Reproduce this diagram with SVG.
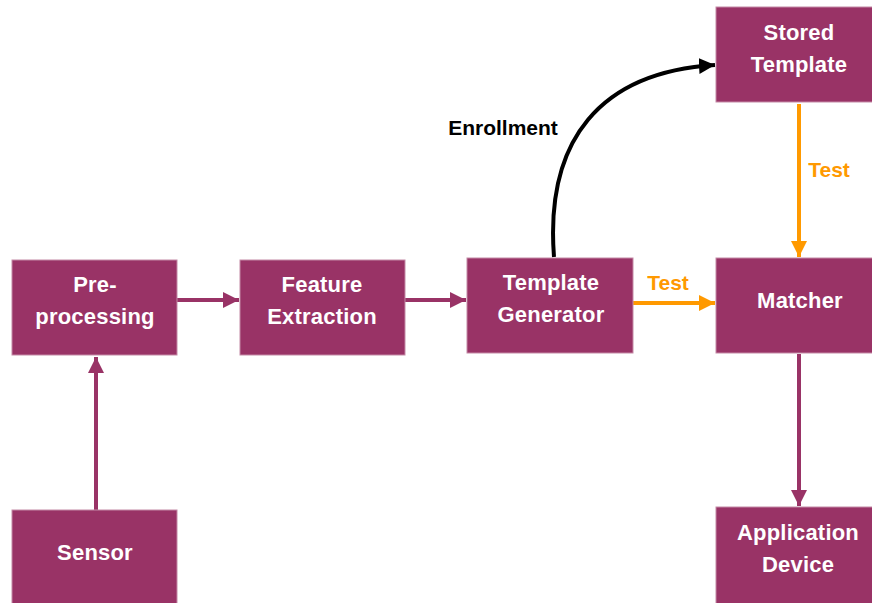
<svg xmlns="http://www.w3.org/2000/svg" width="872" height="603" viewBox="0 0 872 603">
  <defs>
    <style>
      .box { fill: #993366; stroke: #c48aa6; stroke-width: 1; }
      .lbl { font-family: "Liberation Sans", Arial, sans-serif; font-weight: bold; font-size: 22px; fill: #ffffff; text-anchor: middle; letter-spacing: 0.2px; }
      .edge { fill: none; stroke-width: 4; }
      .purple { stroke: #993366; }
      .orange { stroke: #ff9900; }
      .black { stroke: #000000; }
      .elbl { font-family: "Liberation Sans", Arial, sans-serif; font-weight: bold; font-size: 21px; }
    </style>
    <marker id="ah-purple" viewBox="0 0 10 10" refX="10" refY="5" markerWidth="4" markerHeight="4" orient="auto" markerUnits="strokeWidth">
      <path d="M0,0 L10,5 L0,10 z" fill="#993366"/>
    </marker>
    <marker id="ah-orange" viewBox="0 0 10 10" refX="10" refY="5" markerWidth="4" markerHeight="4" orient="auto" markerUnits="strokeWidth">
      <path d="M0,0 L10,5 L0,10 z" fill="#ff9900"/>
    </marker>
    <marker id="ah-black" viewBox="0 0 10 10" refX="10" refY="5" markerWidth="4" markerHeight="4" orient="auto" markerUnits="strokeWidth">
      <path d="M0,0 L10,5 L0,10 z" fill="#000000"/>
    </marker>
  </defs>
  <rect width="872" height="603" fill="#ffffff"/>

  <g id="connectors">
    <line class="edge purple" x1="96" y1="510" x2="96" y2="357" marker-end="url(#ah-purple)"/>
    <line class="edge purple" x1="177" y1="300" x2="239" y2="300" marker-end="url(#ah-purple)"/>
    <line class="edge purple" x1="405" y1="300" x2="466" y2="300" marker-end="url(#ah-purple)"/>
    <line class="edge orange" x1="633" y1="303" x2="715" y2="303" marker-end="url(#ah-orange)"/>
    <text class="elbl" x="668" y="290" fill="#ff9900" text-anchor="middle">Test</text>
    <line class="edge orange" x1="799" y1="104" x2="799" y2="257" marker-end="url(#ah-orange)"/>
    <text class="elbl" x="829" y="177" fill="#ff9900" text-anchor="middle">Test</text>
    <line class="edge purple" x1="799" y1="354" x2="799" y2="506" marker-end="url(#ah-purple)"/>
    <path class="edge black" d="M554,257 C545,140 600,72 715,65" marker-end="url(#ah-black)"/>
    <text class="elbl" x="503" y="135" fill="#000000" text-anchor="middle">Enrollment</text>
  </g>

  <g id="preprocessing">
    <rect class="box" x="12" y="260" width="165" height="95"/>
    <text class="lbl" x="95" y="292">Pre-</text>
    <text class="lbl" x="95" y="324">processing</text>
  </g>
  <g id="feature-extraction">
    <rect class="box" x="240" y="260" width="165" height="95"/>
    <text class="lbl" x="322" y="292">Feature</text>
    <text class="lbl" x="322" y="324">Extraction</text>
  </g>
  <g id="template-generator">
    <rect class="box" x="467" y="258" width="166" height="95"/>
    <text class="lbl" x="551" y="290">Template</text>
    <text class="lbl" x="551" y="322">Generator</text>
  </g>
  <g id="matcher">
    <rect class="box" x="716" y="258" width="160" height="95"/>
    <text class="lbl" x="800" y="308">Matcher</text>
  </g>
  <g id="stored-template">
    <rect class="box" x="716" y="7" width="160" height="95"/>
    <text class="lbl" x="799" y="40">Stored</text>
    <text class="lbl" x="799" y="72">Template</text>
  </g>
  <g id="sensor">
    <rect class="box" x="12" y="510" width="165" height="97"/>
    <text class="lbl" x="95" y="560">Sensor</text>
  </g>
  <g id="application-device">
    <rect class="box" x="716" y="507" width="160" height="100"/>
    <text class="lbl" x="798" y="540">Application</text>
    <text class="lbl" x="798" y="572">Device</text>
  </g>
</svg>
